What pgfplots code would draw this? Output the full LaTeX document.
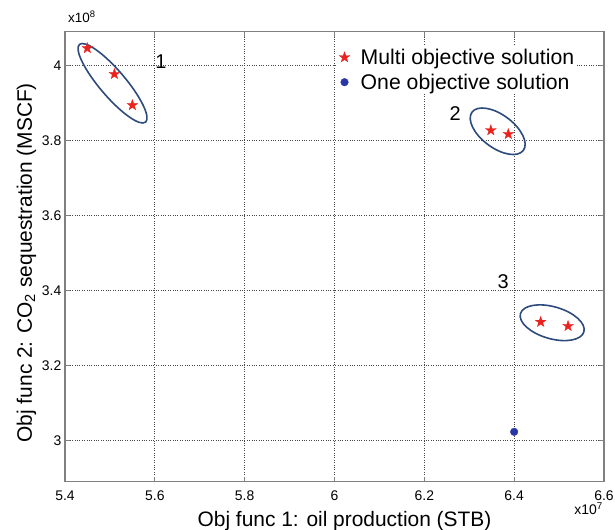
\documentclass[border=0pt]{standalone}
\usepackage{fontspec}
\setmainfont{Liberation Sans}
\usepackage{pgfplots}
\pgfplotsset{compat=1.18}
\definecolor{starred}{RGB}{235,35,30}
\definecolor{dotblue}{RGB}{40,55,165}
\definecolor{ellblue}{RGB}{45,75,125}
\definecolor{axgray}{RGB}{128,128,128}
\definecolor{gridgray}{RGB}{70,70,70}
\pgfdeclareplotmark{pentastar}{%
  \pgfpathmoveto{\pgfqpointpolar{90}{\pgfplotmarksize}}%
  \pgfpathlineto{\pgfqpointpolar{126}{0.40\pgfplotmarksize}}%
  \pgfpathlineto{\pgfqpointpolar{162}{\pgfplotmarksize}}%
  \pgfpathlineto{\pgfqpointpolar{198}{0.40\pgfplotmarksize}}%
  \pgfpathlineto{\pgfqpointpolar{234}{\pgfplotmarksize}}%
  \pgfpathlineto{\pgfqpointpolar{270}{0.40\pgfplotmarksize}}%
  \pgfpathlineto{\pgfqpointpolar{306}{\pgfplotmarksize}}%
  \pgfpathlineto{\pgfqpointpolar{342}{0.40\pgfplotmarksize}}%
  \pgfpathlineto{\pgfqpointpolar{18}{\pgfplotmarksize}}%
  \pgfpathlineto{\pgfqpointpolar{54}{0.40\pgfplotmarksize}}%
  \pgfpathclose
  \pgfusepathqfillstroke}
\pgfplotsset{mylegimg/.style={legend image code/.code={\draw[mark repeat=2,mark phase=2,##1] plot coordinates {(0bp,0bp) (6bp,0bp) (12bp,0bp)}; \path (20bp,0bp);}}}
\begin{document}
\begin{tikzpicture}
\begin{axis}[
  name=ax,
  width=539bp, height=450bp, scale only axis,
  xmin=5.4, xmax=6.6, ymin=2.89, ymax=4.09,
  xtick={5.4,5.6,5.8,6.0,6.2,6.4,6.6},
  ytick={3,3.2,3.4,3.6,3.8,4},
  axis line style={axgray, line width=1.3bp},
  tick style={axgray, line width=1bp},
  major tick length=5bp,
  grid=major,
  major grid style={gridgray, dotted, line width=0.9bp},
  ticklabel style={font=\fontsize{14}{16}\selectfont},
  /pgf/number format/assume math mode=true,
  xticklabel style={inner sep=0pt, yshift=-9bp},
  yticklabel style={inner sep=0pt, xshift=-3.5bp},
  xlabel={Obj func 1: oil production (STB)},
  ylabel={Obj func 2: CO\textsubscript{2} sequestration (MSCF)},
  label style={font=\fontsize{21}{24}\selectfont},
  xlabel style={at={([xshift=10bp,yshift=-44.3bp]rel axis cs:0.5,0)}, anchor=base, inner sep=0pt},
  ylabel style={at={([xshift=-33bp,yshift=-6bp]rel axis cs:0,0.5)}, anchor=base, inner sep=0pt},
  legend style={draw=none, fill=white, at={([xshift=273bp,yshift=-14bp]rel axis cs:0,1)}, anchor=north west, inner sep=1bp, row sep=4bp, font=\fontsize{21.3}{24}\selectfont},
  legend cell align=left,
  clip=false,
]
\addplot[only marks, mylegimg, mark=pentastar, mark size=5.6bp, color=starred, fill=starred, line width=0.3bp]
  coordinates {(5.4497,4.046) (5.510,3.977) (5.550,3.894) (6.348,3.827) (6.387,3.817) (6.459,3.316) (6.520,3.305)};
\addlegendentry{Multi objective solution}
\addplot[only marks, mylegimg, mark=*, mark size=3.8bp, color=dotblue, fill=dotblue]
  coordinates {(6.4,3.023)};
\addlegendentry{One objective solution}

\draw[ellblue, line width=1.6bp, rotate around={-49.6:(axis cs:5.5058,3.9525)}] (axis cs:5.5058,3.9525) ellipse [x radius=51bp, y radius=13bp];
\draw[ellblue, line width=1.6bp, rotate around={-36.7:(axis cs:6.3633,3.8245)}] (axis cs:6.3633,3.8245) ellipse [x radius=32bp, y radius=16.5bp];
\draw[ellblue, line width=1.6bp, rotate around={-16:(axis cs:6.4846,3.3139)}] (axis cs:6.4846,3.3139) ellipse [x radius=33bp, y radius=16bp];

\node[font=\fontsize{20}{24}\selectfont, inner sep=0pt] at (axis cs:5.6138,4.0099) {1};
\node[font=\fontsize{20}{24}\selectfont, inner sep=0pt] at (axis cs:6.2686,3.8712) {2};
\node[font=\fontsize{20}{24}\selectfont, inner sep=0pt] at (axis cs:6.3755,3.4232) {3};

\node[anchor=base west, inner sep=0pt, font=\fontsize{13.5}{15}\selectfont] at ([xshift=3bp,yshift=8.7bp]rel axis cs:0,1) {x10\textsuperscript{8}};
\node[anchor=base east, inner sep=0pt, font=\fontsize{14}{16}\selectfont] at ([xshift=-1bp,yshift=-33bp]rel axis cs:1,0) {x10\textsuperscript{7}};

\coordinate (bbSW) at ([shift={(-65bp,-48.3bp)}]rel axis cs:0,0);
\coordinate (bbNE) at ([shift={(11bp,31.7bp)}]rel axis cs:1,1);
\end{axis}
\pgfresetboundingbox
\path[use as bounding box] (bbSW) rectangle (bbNE);
\end{tikzpicture}
\end{document}
